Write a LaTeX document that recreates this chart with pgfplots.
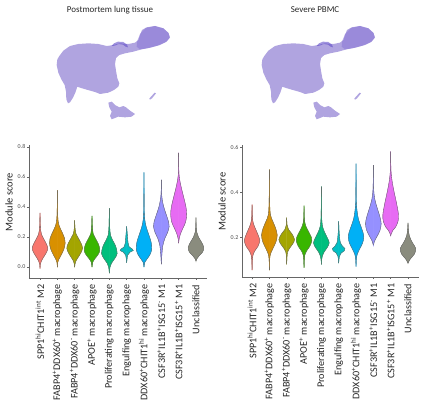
\documentclass[border=0pt]{standalone}
\usepackage{fontspec}
\setmainfont{Carlito}
\usepackage{pgfplots}
\usepackage{pgfplotstable}
\pgfplotsset{compat=1.18}

\definecolor{c1}{HTML}{F8766D}
\definecolor{c2}{HTML}{D89000}
\definecolor{c3}{HTML}{A3A500}
\definecolor{c4}{HTML}{39B600}
\definecolor{c5}{HTML}{00BF7D}
\definecolor{c6}{HTML}{00BFC4}
\definecolor{c7}{HTML}{00B0F6}
\definecolor{c8}{HTML}{9590FF}
\definecolor{c9}{HTML}{E76BF3}
\definecolor{c10}{HTML}{8A8C7E}
\definecolor{umapL}{RGB}{176,164,224}
\definecolor{umapD}{RGB}{128,108,212}
\definecolor{umapA}{RGB}{98,78,200}

% Postmortem lung tissue: violin profiles (y, half width)
\pgfplotstableread[row sep=\\]{y w\\ 0.36 0\\ 0.30 0.01\\ 0.25 0.03\\ 0.22 0.08\\ 0.19 0.2\\ 0.155 0.36\\ 0.125 0.45\\ 0.095 0.36\\ 0.065 0.2\\ 0.04 0.08\\ 0.02 0.02\\ -0.01 0\\}\La
\pgfplotstableread[row sep=\\]{y w\\ 0.51 0\\ 0.38 0.01\\ 0.31 0.04\\ 0.27 0.12\\ 0.23 0.28\\ 0.19 0.42\\ 0.16 0.45\\ 0.12 0.38\\ 0.08 0.22\\ 0.05 0.08\\ 0.03 0.02\\ 0.0 0\\}\Lb
\pgfplotstableread[row sep=\\]{y w\\ 0.31 0\\ 0.26 0.02\\ 0.22 0.08\\ 0.19 0.22\\ 0.155 0.38\\ 0.125 0.45\\ 0.095 0.36\\ 0.065 0.2\\ 0.04 0.07\\ 0.02 0.02\\ 0.0 0\\}\Lc
\pgfplotstableread[row sep=\\]{y w\\ 0.34 0\\ 0.27 0.02\\ 0.22 0.07\\ 0.19 0.2\\ 0.15 0.38\\ 0.11 0.45\\ 0.08 0.33\\ 0.055 0.16\\ 0.035 0.05\\ 0.0 0\\}\Ld
\pgfplotstableread[row sep=\\]{y w\\ 0.39 0\\ 0.27 0.02\\ 0.21 0.07\\ 0.18 0.18\\ 0.14 0.36\\ 0.09 0.45\\ 0.055 0.3\\ 0.025 0.12\\ 0.0 0.04\\ -0.04 0\\}\Le
\pgfplotstableread[row sep=\\]{y w\\ 0.27 0\\ 0.24 0.02\\ 0.2 0.05\\ 0.16 0.08\\ 0.135 0.14\\ 0.12 0.32\\ 0.11 0.38\\ 0.1 0.2\\ 0.08 0.06\\ 0.05 0.02\\ 0.03 0\\}\Lf
\pgfplotstableread[row sep=\\]{y w\\ 0.63 0\\ 0.4 0.01\\ 0.32 0.04\\ 0.27 0.12\\ 0.22 0.26\\ 0.17 0.4\\ 0.12 0.45\\ 0.08 0.33\\ 0.05 0.15\\ 0.03 0.04\\ 0.0 0\\}\Lg
\pgfplotstableread[row sep=\\]{y w\\ 0.58 0\\ 0.5 0.01\\ 0.45 0.05\\ 0.4 0.14\\ 0.35 0.28\\ 0.3 0.42\\ 0.27 0.45\\ 0.23 0.36\\ 0.19 0.2\\ 0.14 0.08\\ 0.08 0.03\\ 0.02 0\\}\Lh
\pgfplotstableread[row sep=\\]{y w\\ 0.76 0\\ 0.64 0.01\\ 0.58 0.06\\ 0.52 0.17\\ 0.46 0.3\\ 0.4 0.42\\ 0.35 0.46\\ 0.3 0.4\\ 0.26 0.25\\ 0.22 0.1\\ 0.19 0.03\\ 0.16 0\\}\Li
\pgfplotstableread[row sep=\\]{y w\\ 0.33 0\\ 0.27 0.01\\ 0.23 0.05\\ 0.2 0.14\\ 0.165 0.32\\ 0.13 0.45\\ 0.1 0.38\\ 0.075 0.18\\ 0.055 0.05\\ 0.04 0\\}\Lj

% Severe PBMC
\pgfplotstableread[row sep=\\]{y w\\ 0.345 0\\ 0.29 0.02\\ 0.26 0.08\\ 0.23 0.24\\ 0.2 0.4\\ 0.185 0.45\\ 0.16 0.34\\ 0.14 0.16\\ 0.12 0.05\\ 0.1 0.015\\ 0.055 0\\}\Ra
\pgfplotstableread[row sep=\\]{y w\\ 0.5 0\\ 0.36 0.015\\ 0.3 0.06\\ 0.27 0.2\\ 0.24 0.36\\ 0.21 0.45\\ 0.18 0.38\\ 0.15 0.2\\ 0.125 0.06\\ 0.1 0.015\\ 0.055 0\\}\Rb
\pgfplotstableread[row sep=\\]{y w\\ 0.287 0\\ 0.255 0.02\\ 0.235 0.1\\ 0.215 0.3\\ 0.19 0.45\\ 0.17 0.34\\ 0.15 0.15\\ 0.135 0.05\\ 0.11 0.015\\ 0.08 0\\}\Rc
\pgfplotstableread[row sep=\\]{y w\\ 0.34 0\\ 0.28 0.02\\ 0.25 0.1\\ 0.225 0.26\\ 0.2 0.42\\ 0.185 0.45\\ 0.16 0.33\\ 0.14 0.15\\ 0.12 0.04\\ 0.1 0.015\\ 0.065 0\\}\Rd
\pgfplotstableread[row sep=\\]{y w\\ 0.425 0\\ 0.3 0.015\\ 0.25 0.06\\ 0.22 0.2\\ 0.195 0.36\\ 0.175 0.45\\ 0.155 0.34\\ 0.135 0.16\\ 0.115 0.05\\ 0.1 0.015\\ 0.08 0\\}\Re
\pgfplotstableread[row sep=\\]{y w\\ 0.27 0\\ 0.23 0.02\\ 0.2 0.05\\ 0.175 0.1\\ 0.16 0.22\\ 0.15 0.36\\ 0.14 0.32\\ 0.13 0.14\\ 0.115 0.04\\ 0.085 0\\}\Rf
\pgfplotstableread[row sep=\\]{y w\\ 0.527 0\\ 0.38 0.01\\ 0.33 0.04\\ 0.28 0.14\\ 0.24 0.32\\ 0.205 0.45\\ 0.175 0.38\\ 0.15 0.22\\ 0.125 0.07\\ 0.1 0.015\\ 0.07 0\\}\Rg
\pgfplotstableread[row sep=\\]{y w\\ 0.52 0\\ 0.42 0.015\\ 0.37 0.08\\ 0.33 0.22\\ 0.29 0.38\\ 0.26 0.45\\ 0.23 0.38\\ 0.205 0.22\\ 0.185 0.08\\ 0.17 0.02\\ 0.165 0\\}\Rh
\pgfplotstableread[row sep=\\]{y w\\ 0.58 0\\ 0.5 0.015\\ 0.45 0.08\\ 0.4 0.2\\ 0.35 0.34\\ 0.3 0.45\\ 0.27 0.42\\ 0.245 0.28\\ 0.23 0.12\\ 0.215 0.03\\ 0.205 0\\}\Ri
\pgfplotstableread[row sep=\\]{y w\\ 0.264 0\\ 0.235 0.02\\ 0.205 0.08\\ 0.175 0.26\\ 0.15 0.45\\ 0.125 0.36\\ 0.105 0.14\\ 0.092 0.04\\ 0.085 0\\}\Rj

% each half of a violin is filled against its centre line, then outlined
\newcommand{\violin}[3]{%
  \addplot[fill=#2, draw=#2, line width=0.4pt, smooth, tension=0.55] table[x expr=#1+\thisrow{w}, y=y]{#3} -- cycle;
  \addplot[fill=#2, draw=#2, line width=0.4pt, smooth, tension=0.55] table[x expr=#1-\thisrow{w}, y=y]{#3} -- cycle;
  \addplot[black!60, line width=0.35pt, smooth, tension=0.55] table[x expr=#1+\thisrow{w}, y=y]{#3};
  \addplot[black!60, line width=0.35pt, smooth, tension=0.55] table[x expr=#1-\thisrow{w}, y=y]{#3};
}

\newcommand{\umap}{%
  \addplot[fill=umapL, draw=none] coordinates {(58,108) (70,92) (90,78) (115,72) (145,70) (175,72) (200,78) (215,76) (240,70) (265,72) (285,68) (295,60) (300,45) (306,30) (320,22) (345,18) (370,25) (385,38) (390,52) (380,65) (360,75) (335,82) (305,88) (280,95) (255,100) (238,105) (228,114) (225,132) (228,152) (232,175) (238,190) (235,200) (222,210) (205,218) (180,222) (165,216) (140,209) (120,203) (112,200) (106,218) (99,233) (90,247) (84,250) (79,238) (78,215) (74,195) (64,178) (55,158) (50,135) (52,118)} -- cycle;
  \addplot[fill=umapD, draw=none, opacity=0.45] coordinates {(292,62) (300,42) (318,24) (345,18) (370,25) (386,40) (389,54) (376,67) (352,77) (322,85) (300,88) (290,80)} -- cycle;
  \addplot[fill=umapA, draw=none, opacity=0.6] coordinates {(214,78) (222,70) (234,65) (250,66) (261,74) (264,82) (257,80) (249,74) (236,72) (224,77)} -- cycle;
  \addplot[fill=umapL, draw=none] coordinates {(205,248) (215,245) (225,255) (238,262) (250,258) (258,262) (270,272) (285,282) (275,290) (255,292) (235,290) (215,298) (210,288) (215,275) (208,262)} -- cycle;
  \addplot[fill=umapL, draw=none] coordinates {(328,236) (332,231) (344,218) (348,220) (336,235) (330,239)} -- cycle;
}

\pgfplotsset{
  umapstyle/.style={scale only axis, width=140bp, height=120bp, xmin=0, xmax=420, ymin=0, ymax=360, y dir=reverse, hide axis, clip=false,
    title style={at={(0.5,1)}, anchor=center, yshift=4bp, font=\fontsize{9}{10}\selectfont, text=black!85}},
  vstyle/.style={scale only axis, clip=false,
    axis x line*=bottom, axis y line*=left,
    axis line style={black!60, line width=0.5pt},
    tick style={black!60, line width=0.4pt},
    tick align=outside, major tick length=2bp,
    xtick={1,2,3,4,5,6,7,8,9,10},
    xticklabels={{SPP1\textsuperscript{hi}CHIT1\textsuperscript{int} M2},
      {FABP4\textsuperscript{+}DDX60\textsuperscript{+} macrophage},
      {FABP4\textsuperscript{+}DDX60\textsuperscript{-} macrophage},
      {APOE\textsuperscript{+} macrophage},
      {Proliferating macrophage},
      {Engulfing macrophage},
      {DDX60\textsuperscript{+}CHIT1\textsuperscript{hi} macrophage},
      {CSF3R\textsuperscript{+}IL1B\textsuperscript{+}ISG15\textsuperscript{-} M1},
      {CSF3R\textsuperscript{+}IL1B\textsuperscript{+}ISG15\textsuperscript{+} M1},
      {Unclassified}},
    x tick label style={rotate=90, anchor=east, font=\fontsize{10.2}{11}\selectfont, text=black!85, inner xsep=4.5bp, inner ysep=1bp},
    y tick label style={font=\fontsize{6}{6}\selectfont, text=black!70, inner sep=1.5bp},
    yticklabel style={/pgf/number format/.cd, fixed, fixed zerofill, precision=1, assume math mode=true},
    ylabel={Module score},
    ylabel style={font=\fontsize{10.5}{11}\selectfont, text=black!85, at={(ticklabel cs:0.57)}},
  },
}

\begin{document}
\begin{tikzpicture}
\useasboundingbox (0,0) rectangle (431bp,415bp);

\begin{axis}[umapstyle, at={(40bp,275bp)}, anchor=south west, title={Postmortem lung tissue}]
\umap
\end{axis}

\begin{axis}[umapstyle, at={(245bp,275bp)}, anchor=south west, title={Severe PBMC}]
\umap
\end{axis}

\begin{axis}[vstyle, at={(29bp,137bp)}, anchor=south west, width=178bp, height=133bp,
  xmin=0.365, xmax=10.635, ymin=-0.073, ymax=0.813, ytick={0,0.2,0.4,0.6,0.8}]
\violin{1}{c1}{\La}
\violin{2}{c2}{\Lb}
\violin{3}{c3}{\Lc}
\violin{4}{c4}{\Ld}
\violin{5}{c5}{\Le}
\violin{6}{c6}{\Lf}
\violin{7}{c7}{\Lg}
\violin{8}{c8}{\Lh}
\violin{9}{c9}{\Li}
\violin{10}{c10}{\Lj}
\end{axis}

\begin{axis}[vstyle, at={(242bp,138bp)}, anchor=south west, width=177bp, height=132bp,
  xmin=0.42, xmax=10.635, ymin=0.024, ymax=0.609, ytick={0.2,0.4,0.6}]
\violin{1}{c1}{\Ra}
\violin{2}{c2}{\Rb}
\violin{3}{c3}{\Rc}
\violin{4}{c4}{\Rd}
\violin{5}{c5}{\Re}
\violin{6}{c6}{\Rf}
\violin{7}{c7}{\Rg}
\violin{8}{c8}{\Rh}
\violin{9}{c9}{\Ri}
\violin{10}{c10}{\Rj}
\end{axis}
\end{tikzpicture}
\end{document}
